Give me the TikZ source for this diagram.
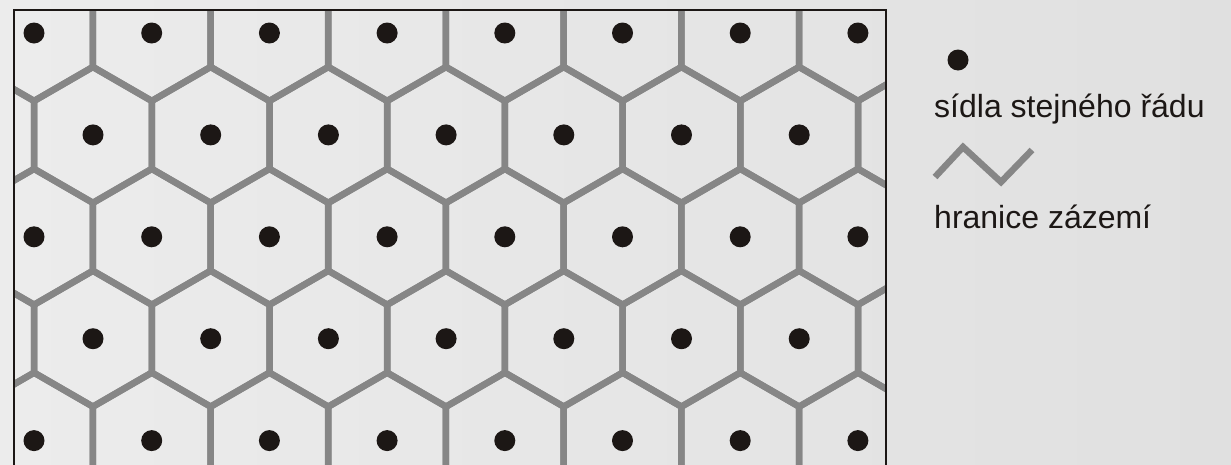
\documentclass[tikz,border=0pt]{standalone}
\usepackage{fontspec}
\setmainfont{Liberation Sans}
\definecolor{bgleft}{HTML}{ECECEC}
\definecolor{bgright}{HTML}{E0E0E0}
\definecolor{hexgray}{HTML}{868686}
\definecolor{dotblack}{HTML}{1C1715}
\tikzset{
  hexline/.style={draw=hexgray,line width=6.5pt},
  townfill/.style={fill=dotblack},
  legendtext/.style={anchor=base west,inner sep=0pt,text=dotblack,font=\fontsize{32}{36}\selectfont}
}
\begin{document}
\begin{tikzpicture}[x=1pt,y=-1pt,line join=miter]
\useasboundingbox (0,0) rectangle (1231,464);
\shade[left color=bgleft,right color=bgright] (0,0) rectangle (1231,464);

% hexagonal catchment areas
\begin{scope}
\clip (14,10) rectangle (886,470);
\foreach \r in {0,...,6} {
  \pgfmathsetmacro\yy{33+101.9*(\r-1)}
  \pgfmathsetmacro\xo{isodd(\r) ? 34 : 93}
  \foreach \k in {-1,...,8}
    \draw[hexline] (\xo+117.7*\k,\yy) +(90:68) -- +(30:68) -- +(-30:68) -- +(-90:68) -- +(-150:68) -- +(150:68) -- cycle;
}
\end{scope}

% settlements
\foreach \r in {0,...,4} {
  \pgfmathsetmacro\yy{33+101.9*\r}
  \ifodd\r
    \foreach \k in {0,...,6} \fill[townfill] (93+117.7*\k,\yy) circle[radius=10.5];
  \else
    \foreach \k in {0,...,7} \fill[townfill] (34+117.7*\k,\yy) circle[radius=10.5];
  \fi
}

\draw[line width=2.4pt,dotblack] (14,480) -- (14,10) -- (886,10) -- (886,480);

% legend
\coordinate (dot) at (958,60);
\fill[townfill] (dot) circle[radius=10.5];
\node[legendtext] (sidla) at (934,117) {sídla stejného řádu};
\coordinate (z1) at (935,177);
\coordinate (z2) at (963,147);
\coordinate (z3) at (1001,182);
\coordinate (z4) at (1032,150);
\draw[hexline] (z1) -- (z2) -- (z3) -- (z4);
\node[legendtext] (hranice) at (934,228) {hranice zázemí};
\end{tikzpicture}
\end{document}
